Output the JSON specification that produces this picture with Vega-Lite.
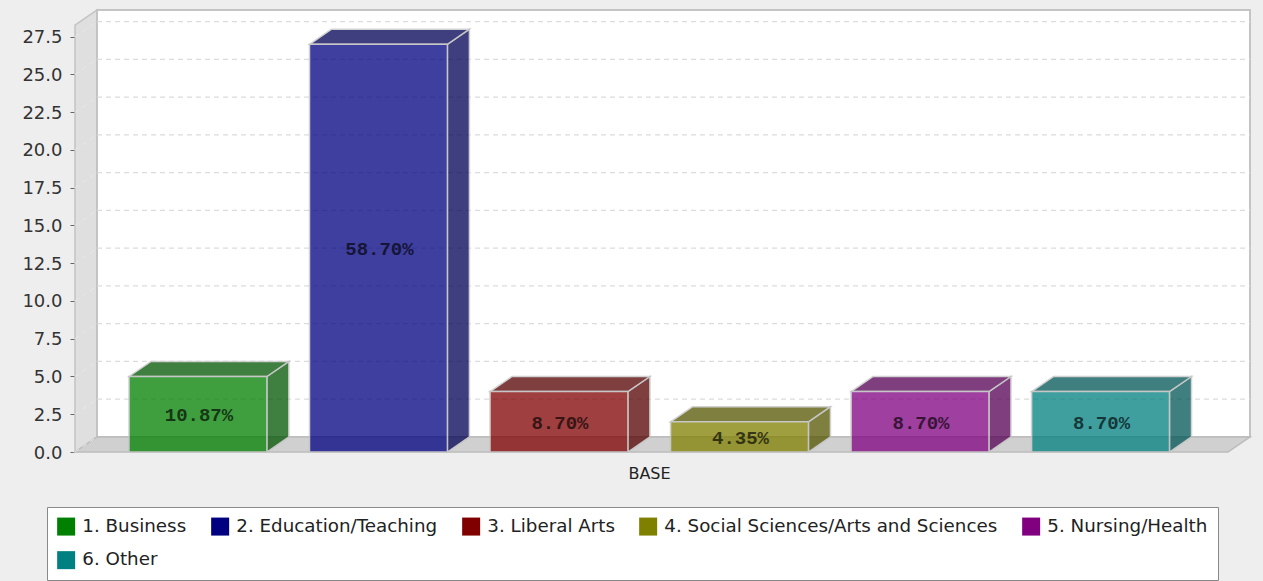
{
"$schema":"https://vega.github.io/schema/vega-lite/v6.json",
"width":1175,"height":442,
"autosize":{"type":"none"},
"padding":{"left":75,"top":10,"right":13,"bottom":129},
"background":"#eeeeee",
"config":{"view":{"stroke":null},"font":"Open Sans"},
"datasets":{
"bars":[
{"category":"1. Business","pos":0,"count":5,"label":"10.87%"},
{"category":"2. Education/Teaching","pos":1,"count":27,"label":"58.70%"},
{"category":"3. Liberal Arts","pos":2,"count":4,"label":"8.70%"},
{"category":"4. Social Sciences/Arts and Sciences","pos":3,"count":2,"label":"4.35%"},
{"category":"5. Nursing/Health","pos":4,"count":4,"label":"8.70%"},
{"category":"6. Other","pos":5,"count":4,"label":"8.70%"}],
"ticks":[{"t":0},{"t":2.5},{"t":5},{"t":7.5},{"t":10},{"t":12.5},{"t":15},{"t":17.5},{"t":20},{"t":22.5},{"t":25},{"t":27.5}],
"frame":[{"name":"plot"}]
},
"resolve":{"scale":{"fill":"independent"}},
"layer":[
{"data":{"name":"frame"},
"transform":[{"calculate":"[-0.681,-0.559]","as":"xs"},{"calculate":"[0,1]","as":"lo"},{"calculate":"[28.27,29.27]","as":"hi"},{"flatten":["xs","lo","hi"]}],
"mark":{"type":"area","fill":"#dfdfdf","stroke":"#c4c4c4","strokeWidth":1.5},
"encoding":{
"x":{"field":"xs","type":"quantitative","title":"BASE","scale":{"domain":[-0.681,5.828],"nice":false,"zero":false},"axis":{"domain":false,"ticks":false,"labels":false,"grid":false,"titleFont":"DejaVu Sans","titleFontSize":16,"titleFontWeight":"normal","titleColor":"#222222","titleX":574,"titleY":13}},
"y":{"field":"hi","type":"quantitative","title":null,"stack":null,"scale":{"domain":[0,29.27],"nice":false,"zero":false},"axis":{"domain":false,"grid":false,"values":[0,2.5,5,7.5,10,12.5,15,17.5,20,22.5,25,27.5],"format":".1f","labelFont":"DejaVu Sans","labelFontSize":18,"labelColor":"#333333","labelOffset":1,"tickColor":"#666666","tickSize":5,"labelPadding":8}},
"y2":{"field":"lo"}}},
{"data":{"name":"frame"},
"transform":[{"calculate":"-0.559","as":"x0"},{"calculate":"5.828","as":"x1"},{"calculate":"1","as":"y0"},{"calculate":"29.27","as":"y1"}],
"mark":{"type":"rect","fill":"#ffffff","stroke":"#c4c4c4","strokeWidth":2},
"encoding":{"x":{"field":"x0","type":"quantitative","title":"BASE"},"x2":{"field":"x1"},"y":{"field":"y0","type":"quantitative","title":null},"y2":{"field":"y1"}}},
{"data":{"name":"frame"},
"transform":[{"calculate":"[-0.681,-0.559,5.706,5.828]","as":"xs"},{"calculate":"[0,0,0,1]","as":"lo"},{"calculate":"[0,1,1,1]","as":"hi"},{"flatten":["xs","lo","hi"]}],
"mark":{"type":"area","fill":"#d0d0d0","stroke":"#bcbcbc","strokeWidth":1.5},
"encoding":{"x":{"field":"xs","type":"quantitative","title":"BASE"},"y":{"field":"hi","type":"quantitative","stack":null,"title":null},"y2":{"field":"lo"}}},
{"data":{"name":"ticks"},
"transform":[{"filter":"datum.t>0"},{"calculate":"-0.559","as":"x0"},{"calculate":"5.828","as":"x1"},{"calculate":"datum.t+1","as":"yb"}],
"mark":{"type":"rule","stroke":"#dcdcdc","strokeWidth":1.2,"strokeDash":[5,4]},
"encoding":{"x":{"field":"x0","type":"quantitative","title":"BASE"},"x2":{"field":"x1"},"y":{"field":"yb","type":"quantitative","title":null}}},
{"data":{"name":"ticks"},
"transform":[{"calculate":"-0.681","as":"x0"},{"calculate":"-0.559","as":"x1"},{"calculate":"datum.t+1","as":"yb"}],
"mark":{"type":"rule","stroke":"#e8e8e8","strokeWidth":1,"strokeDash":[5,4]},
"encoding":{"x":{"field":"x0","type":"quantitative","title":"BASE"},"x2":{"field":"x1"},"y":{"field":"t","type":"quantitative","title":null},"y2":{"field":"yb"}}},
{"data":{"name":"bars"},
"transform":[{"calculate":"[datum.pos+0.382,datum.pos+0.504]","as":"xs"},{"calculate":"[0,1]","as":"lo"},{"calculate":"[datum.count,datum.count+1]","as":"hi"},{"flatten":["xs","lo","hi"]}],
"mark":{"type":"area","opacity":0.75,"stroke":"#c4c4c4","strokeWidth":1.5,"strokeOpacity":1},
"encoding":{"x":{"field":"xs","type":"quantitative","title":"BASE"},"y":{"field":"hi","type":"quantitative","stack":null,"title":null},"y2":{"field":"lo"},
"fill":{"field":"category","type":"nominal","legend":null,"scale":{"range":["#005500","#000055","#550000","#555500","#550055","#005555"]}}}},
{"data":{"name":"bars"},
"transform":[{"calculate":"[datum.pos-0.382,datum.pos-0.26,datum.pos+0.382,datum.pos+0.504]","as":"xs"},{"calculate":"[datum.count,datum.count,datum.count,datum.count+1]","as":"lo"},{"calculate":"[datum.count,datum.count+1,datum.count+1,datum.count+1]","as":"hi"},{"flatten":["xs","lo","hi"]}],
"mark":{"type":"area","opacity":0.75,"stroke":"#c4c4c4","strokeWidth":1.5,"strokeOpacity":1},
"encoding":{"x":{"field":"xs","type":"quantitative","title":"BASE"},"y":{"field":"hi","type":"quantitative","stack":null,"title":null},"y2":{"field":"lo"},
"fill":{"field":"category","type":"nominal","legend":null,"scale":{"range":["#005500","#000055","#550000","#555500","#550055","#005555"]}}}},
{"data":{"name":"bars"},
"transform":[{"calculate":"datum.pos-0.382","as":"x0"},{"calculate":"datum.pos+0.382","as":"x1"},{"calculate":"0","as":"base"}],
"mark":{"type":"rect","opacity":0.75,"stroke":"#c4c4c4","strokeWidth":1.5,"strokeOpacity":1},
"encoding":{"x":{"field":"x0","type":"quantitative","title":"BASE"},"x2":{"field":"x1"},"y":{"field":"count","type":"quantitative","stack":null,"title":null},"y2":{"field":"base"},
"fill":{"field":"category","type":"nominal","title":null,"scale":{"range":["#008000","#000080","#800000","#808000","#800080","#008080"]},
"legend":{"orient":"none","legendX":-28,"legendY":497,"columns":5,"direction":"horizontal","symbolType":"square","symbolSize":324,"symbolOpacity":1,"symbolStrokeWidth":0,"labelFont":"DejaVu Sans","labelFontSize":18.3,"labelColor":"#222222","labelOffset":7,"labelLimit":500,"columnPadding":24,"rowPadding":14,"padding":10,"fillColor":"#ffffff","strokeColor":"#888888"}}}},
{"data":{"name":"bars"},
"transform":[{"calculate":"datum.count/2","as":"mid"}],
"mark":{"type":"text","font":"Liberation Mono","fontWeight":"bold","fontSize":19,"fill":"#000000","opacity":0.65,"align":"center","baseline":"middle","dx":1,"dy":1},
"encoding":{"x":{"field":"pos","type":"quantitative","title":"BASE"},"y":{"field":"mid","type":"quantitative","title":null},"text":{"field":"label"}}}
]
}
